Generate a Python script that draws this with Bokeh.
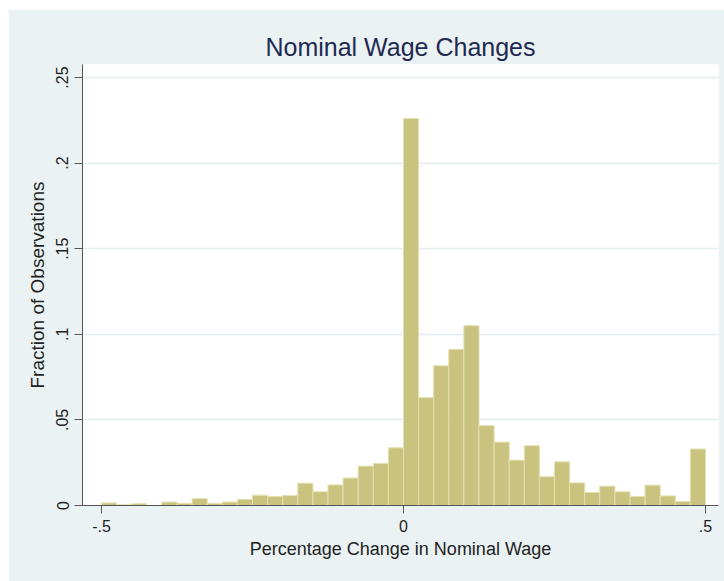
from bokeh.plotting import figure
from bokeh.models import FixedTicker, Range1d, ColumnDataSource
from bokeh.embed import file_html
from bokeh.resources import INLINE

# Histogram bins (left and right edges) and fraction of observations
bin_left = [-0.500, -0.475, -0.450, -0.425, -0.400, -0.375, -0.350, -0.325, -0.300, -0.275,
            -0.250, -0.225, -0.200, -0.175, -0.150, -0.125, -0.100, -0.075, -0.050, -0.025,
            0.000, 0.025, 0.050, 0.075, 0.100, 0.125, 0.150, 0.175, 0.200, 0.225,
            0.250, 0.275, 0.300, 0.325, 0.350, 0.375, 0.400, 0.425, 0.450, 0.475]
bin_right = [-0.475, -0.450, -0.425, -0.400, -0.375, -0.350, -0.325, -0.300, -0.275, -0.250,
             -0.225, -0.200, -0.175, -0.150, -0.125, -0.100, -0.075, -0.050, -0.025, 0.000,
             0.025, 0.050, 0.075, 0.100, 0.125, 0.150, 0.175, 0.200, 0.225, 0.250,
             0.275, 0.300, 0.325, 0.350, 0.375, 0.400, 0.425, 0.450, 0.475, 0.500]
fraction = [0.0015, 0.0004, 0.0010, 0.0000, 0.0020, 0.0012, 0.0040, 0.0012, 0.0020, 0.0035,
            0.0060, 0.0052, 0.0058, 0.0130, 0.0080, 0.0120, 0.0160, 0.0230, 0.0245, 0.0337,
            0.2260, 0.0630, 0.0816, 0.0912, 0.1050, 0.0466, 0.0370, 0.0265, 0.0349, 0.0168,
            0.0255, 0.0132, 0.0076, 0.0113, 0.0080, 0.0053, 0.0119, 0.0056, 0.0023, 0.0330]

x_ticks = [-0.5, 0.0, 0.5]
x_tick_labels = ["-.5", "0", ".5"]
y_ticks = [0.0, 0.05, 0.10, 0.15, 0.20, 0.25]
y_tick_labels = ["0", ".05", ".1", ".15", ".2", ".25"]

BG = "#EAF2F3"
FONT = "Liberation Sans"

p = figure(width=716, height=572, output_backend="svg", toolbar_location=None,
           x_range=Range1d(-0.53146, 0.52152), y_range=Range1d(0, 0.2576),
           min_border_left=74, min_border_right=6, min_border_top=55, min_border_bottom=76,
           margin=(9, 0, 0, 8))

p.title.text = "Nominal Wage Changes"
p.title.align = "center"
p.title.text_font = FONT
p.title.text_font_size = "25px"
p.title.text_font_style = "normal"
p.title.text_color = "#1E2A52"
p.title.standoff = 8

p.background_fill_color = "white"
p.border_fill_color = BG
p.outline_line_color = None

src = ColumnDataSource(dict(left=bin_left, right=bin_right, top=fraction))
p.quad(left="left", right="right", bottom=0, top="top", source=src,
       fill_color="#C9C37F", line_color="#E3DFAE", line_width=1)

# grid
p.xgrid.grid_line_color = None
p.ygrid.grid_line_color = "#E4EDF0"
p.ygrid.grid_line_width = 1.5
p.ygrid.ticker = FixedTicker(ticks=y_ticks[1:])

# x axis
xa = p.xaxis[0]
xa.ticker = FixedTicker(ticks=x_ticks)
xa.major_label_overrides = {t: l for t, l in zip(x_ticks, x_tick_labels)}
xa.axis_label = "Percentage Change in Nominal Wage"
xa.axis_label_text_font = FONT
xa.axis_label_text_font_style = "normal"
xa.axis_label_text_font_size = "18px"
xa.axis_label_text_color = "#222222"
xa.axis_label_standoff = 4
xa.major_label_text_font = FONT
xa.major_label_text_font_size = "16px"
xa.major_label_text_color = "#222222"
xa.major_label_standoff = 6
xa.major_tick_in = 0
xa.major_tick_out = 8
xa.minor_tick_out = 0
xa.minor_tick_in = 0
xa.axis_line_color = "#555555"
xa.major_tick_line_color = "#555555"

# y axis
ya = p.yaxis[0]
ya.ticker = FixedTicker(ticks=y_ticks)
ya.major_label_overrides = {t: l for t, l in zip(y_ticks, y_tick_labels)}
ya.major_label_orientation = "vertical"
ya.axis_label = "Fraction of Observations"
ya.axis_label_text_font = FONT
ya.axis_label_text_font_style = "normal"
ya.axis_label_text_font_size = "19px"
ya.axis_label_text_color = "#222222"
ya.axis_label_standoff = 6
ya.major_label_text_font = FONT
ya.major_label_text_font_size = "16px"
ya.major_label_text_color = "#222222"
ya.major_label_standoff = 6
ya.major_tick_in = 0
ya.major_tick_out = 8
ya.minor_tick_out = 0
ya.minor_tick_in = 0
ya.axis_line_color = "#555555"
ya.major_tick_line_color = "#555555"

open("out.html", "w").write(file_html(p, INLINE))
